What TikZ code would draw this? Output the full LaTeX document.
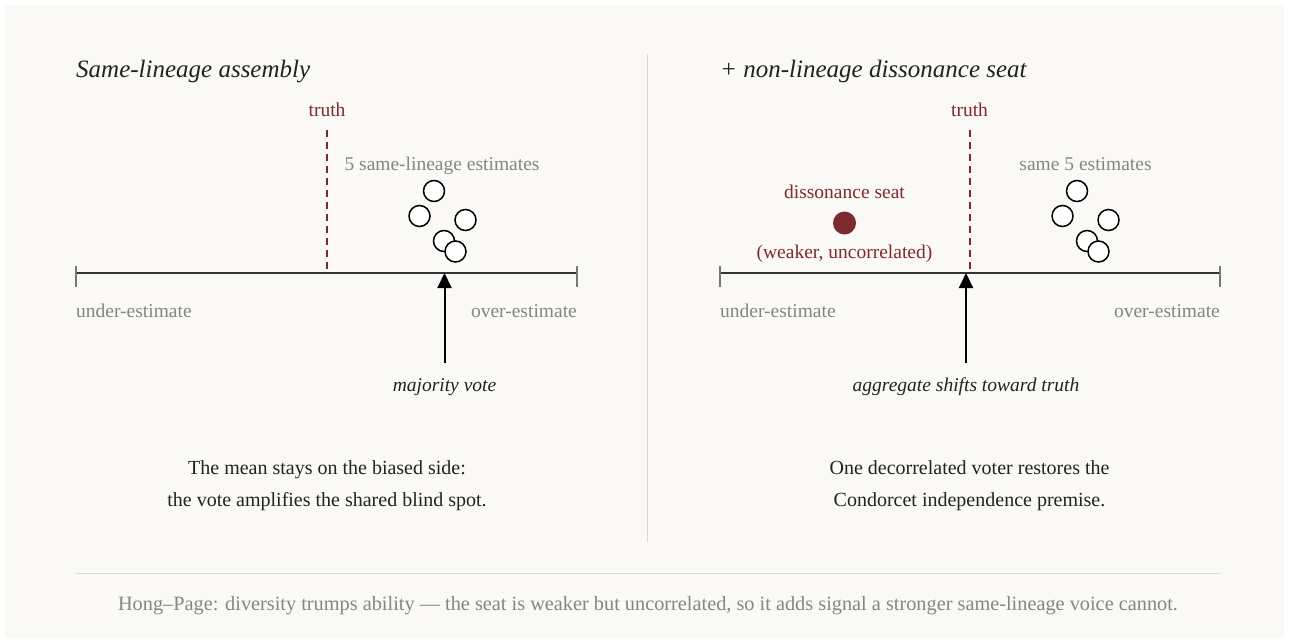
\documentclass[tikz,border=0pt]{standalone}
\usepackage{fontspec}
\setmainfont{Liberation Serif}
\usetikzlibrary{arrows.meta}
\definecolor{bg}{HTML}{FAF9F6}
\definecolor{wine}{HTML}{7D2B2F}
\definecolor{greytxt}{HTML}{858585}
\definecolor{ink}{HTML}{222222}
\definecolor{axisc}{HTML}{333333}
\definecolor{tickc}{HTML}{777777}
\definecolor{rulec}{HTML}{D8D8D8}
\begin{document}
\begin{tikzpicture}[x=1pt,y=-1pt,
  txt/.style={inner sep=0pt, anchor=base},
  paneltitle/.style={txt, anchor=base west, text=ink, font=\fontsize{25}{30}\selectfont\itshape},
  graylabel/.style={txt, text=greytxt, font=\fontsize{19.5}{23}\selectfont},
  winelabel/.style={txt, text=wine, font=\fontsize{19.5}{23}\selectfont},
  votelabel/.style={txt, text=ink, font=\fontsize{19.5}{23}\selectfont\itshape},
  bodytext/.style={txt, text=ink, font=\fontsize{20}{32}\selectfont},
  foot/.style={txt, text=greytxt, font=\fontsize{20.3}{24}\selectfont},
  axisline/.style={draw=axisc, line width=2pt},
  tickline/.style={draw=tickc, line width=1.5pt},
  truthline/.style={draw=wine, line width=1.6pt, dash pattern=on 6.5pt off 5.5pt},
  est/.style={circle, draw=black, fill=white, line width=1.5pt, minimum size=21pt, inner sep=0pt},
  seat/.style={circle, fill=wine, minimum size=23pt, inner sep=0pt},
  votearrow/.style={draw=black, line width=2pt, -{Triangle[length=15pt,width=14pt]}},
  divider/.style={draw=rulec, line width=1.5pt}
]
\useasboundingbox (0,0) rectangle (1289,643);
\fill[white] (0,0) rectangle (1289,643);
\fill[bg] (5,5) rectangle (1284,638);

% divider and bottom rule
\coordinate (dvT) at (647.5,54);
\coordinate (dvB) at (647.5,542);
\draw[divider] (dvT) -- (dvB);
\coordinate (ruL) at (76,573.5);
\coordinate (ruR) at (1220,573.5);
\draw[divider] (ruL) -- (ruR);

% ================= left panel =================
\node[paneltitle] (tL) at (76,77) {Same-lineage assembly};

\coordinate (axL1) at (76,273);
\coordinate (axL2) at (577,273);
\draw[axisline] (axL1) -- (axL2);
\draw[tickline] (76,266) -- (76,287);
\draw[tickline] (577,266) -- (577,287);

\coordinate (trL1) at (327,130);
\coordinate (trL2) at (327,273);
\draw[truthline] (trL1) -- (trL2);
\node[winelabel] (truthL) at (327,116.5) {truth};

\node[graylabel] (estL) at (442,170.5) {5 same-lineage estimates};
\node[est] (l1) at (434,191) {};
\node[est] (l2) at (419.5,216) {};
\node[est] (l3) at (465.5,220) {};
\node[est] (l4) at (444,241) {};
\node[est] (l5) at (455.5,251.5) {};

\node[graylabel, anchor=base west] (underL) at (76,317.5) {under-estimate};
\node[graylabel, anchor=base east] (overL) at (577,317.5) {over-estimate};

\coordinate (vL0) at (444.5,363);
\coordinate (vL1) at (444.5,273);
\draw[votearrow] (vL0) -- (vL1);
\node[votelabel] (mv) at (444.5,391.5) {majority vote};

\node[bodytext] (bL1) at (327,474) {The mean stays on the biased side:};
\node[bodytext] (bL2) at (327,506) {the vote amplifies the shared blind spot.};

% ================= right panel =================
\node[paneltitle] (tR) at (720,77) {+ \textit{non-lineage dissonance seat}};

\coordinate (axR1) at (720,273);
\coordinate (axR2) at (1220,273);
\draw[axisline] (axR1) -- (axR2);
\draw[tickline] (720,266) -- (720,287);
\draw[tickline] (1220,266) -- (1220,287);

\coordinate (trR1) at (970,130);
\coordinate (trR2) at (970,273);
\draw[truthline] (trR1) -- (trR2);
\node[winelabel] (truthR) at (969.5,116.5) {truth};

\node[graylabel] (estR) at (1085.5,170.5) {same 5 estimates};
\node[est] (r1) at (1077,191) {};
\node[est] (r2) at (1062.5,216) {};
\node[est] (r3) at (1108.5,220) {};
\node[est] (r4) at (1087,241) {};
\node[est] (r5) at (1098.5,251.5) {};

\node[winelabel] (seatlab) at (844.5,198.5) {dissonance seat};
\node[seat] (seatdot) at (844.5,223) {};
\node[winelabel] (seatsub) at (844.5,258) {(weaker, uncorrelated)};

\node[graylabel, anchor=base west] (underR) at (720,317.5) {under-estimate};
\node[graylabel, anchor=base east] (overR) at (1220,317.5) {over-estimate};

\coordinate (vR0) at (966,363);
\coordinate (vR1) at (966,273);
\draw[votearrow] (vR0) -- (vR1);
\node[votelabel] (ag) at (966,391.5) {aggregate shifts toward truth};

\node[bodytext] (bR1) at (969.5,474) {One decorrelated voter restores the};
\node[bodytext] (bR2) at (969.5,506) {Condorcet independence premise.};

% footer
\node[foot] (footer) at (648,610) {Hong–Page: diversity trumps ability — the seat is weaker but uncorrelated, so it adds signal a stronger same-lineage voice cannot.};
\end{tikzpicture}
\end{document}
